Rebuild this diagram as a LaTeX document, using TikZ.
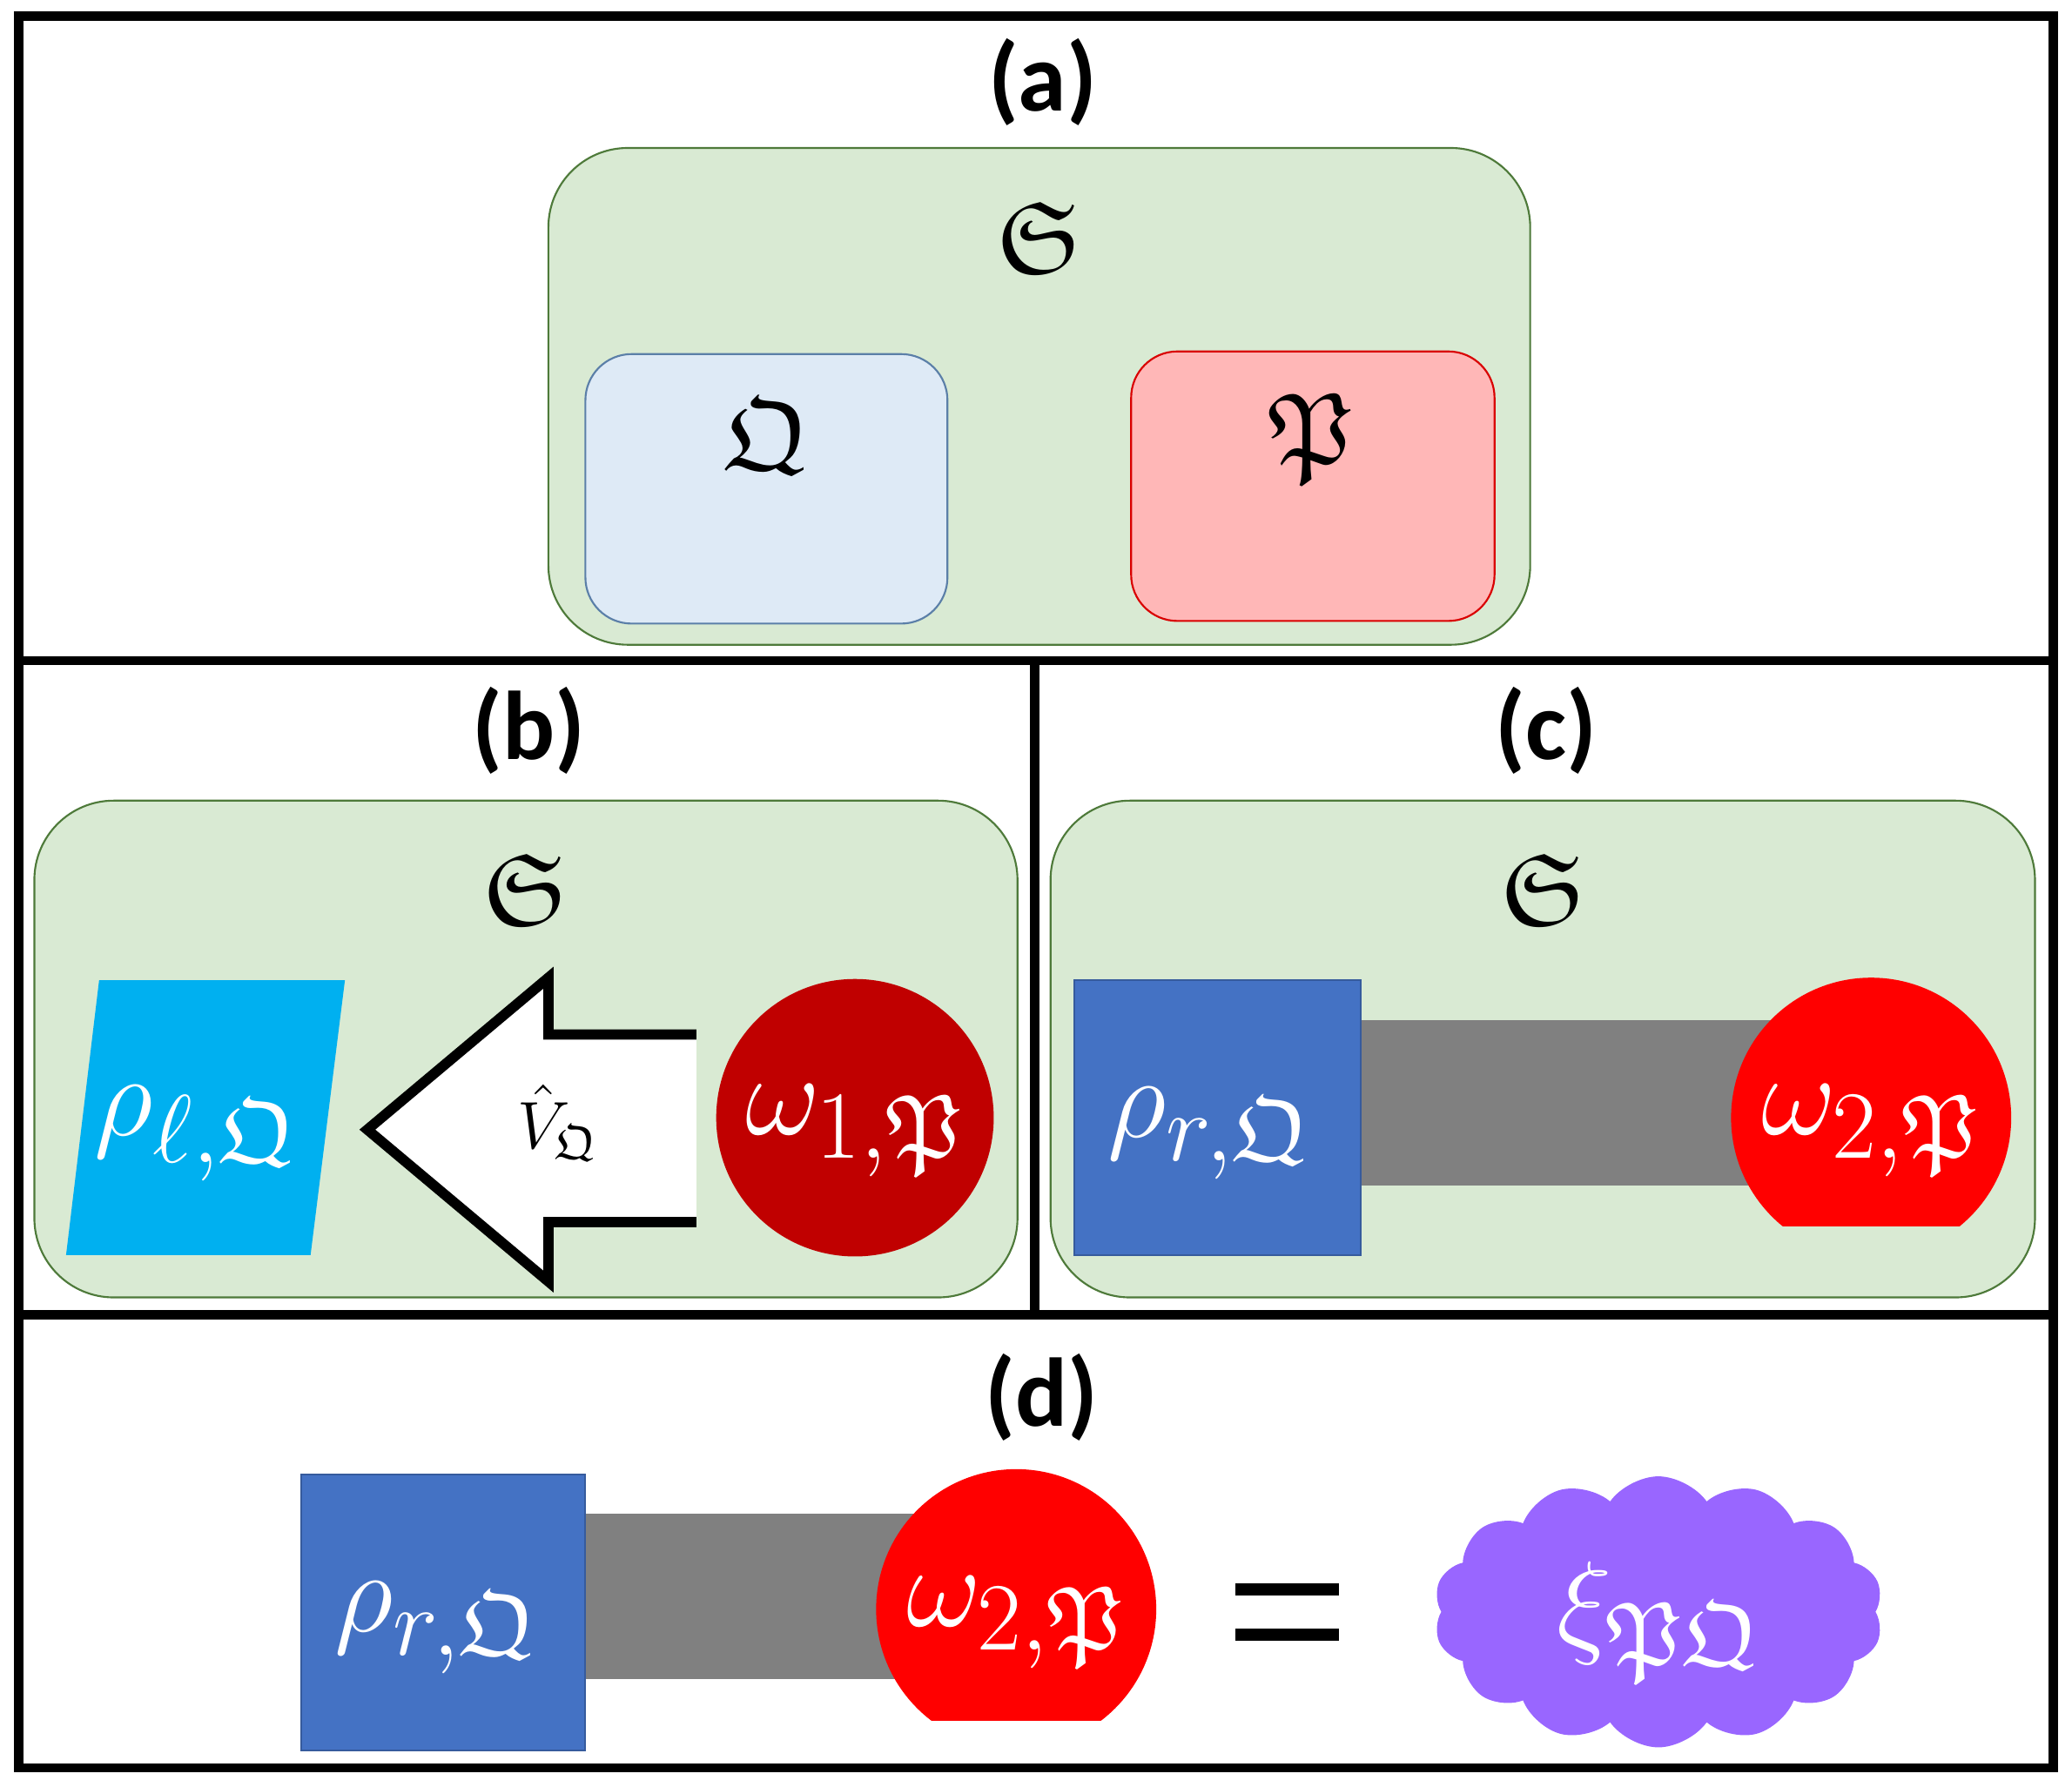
\documentclass[tikz,border=0pt]{standalone}
\usepackage{amssymb}
\usepackage{fontspec}
\setmainfont{Carlito}
\usetikzlibrary{shapes.symbols}
\definecolor{gfill}{HTML}{D9EAD3}
\definecolor{gdraw}{HTML}{4E7A3A}
\definecolor{bfill}{HTML}{DEEAF6}
\definecolor{bdraw}{HTML}{5B7FA8}
\definecolor{rfill}{HTML}{FFB7B7}
\definecolor{cyanf}{HTML}{00B0F0}
\definecolor{darkr}{HTML}{C00000}
\definecolor{blues}{HTML}{4472C4}
\definecolor{purp}{HTML}{9966FF}
\tikzset{
 lab/.style={font=\fontsize{21}{21}\selectfont\bfseries},
 frak/.style={font=\fontsize{22}{22}\selectfont},
 wt/.style={text=white,font=\fontsize{28}{28}\selectfont},
 gbox/.style={fill=gfill,draw=gdraw,rounded corners=0.6cm},
 frame/.style={line width=2pt},
}
\begin{document}
\begin{tikzpicture}[x=0.01cm,y=-0.01cm]
\useasboundingbox (0,0) rectangle (1568,1352);
% frames
\draw[frame] (14,12) rectangle (1554,1338);
\draw[frame] (14,500) -- (1554,500);
\draw[frame] (14,995) -- (1554,995);
\draw[frame] (783,500) -- (783,995);
% (a)
\node[lab] (la) at (789,62) {(a)};
\draw[gbox] (415,112) rectangle (1158,488);
\node[frak] (sa) at (787,180) {$\mathfrak{S}$};
\draw[fill=bfill,draw=bdraw,rounded corners=0.35cm] (443,268) rectangle (717,472);
\node[frak] (qa) at (580,330) {$\mathfrak{Q}$};
\draw[fill=rfill,draw=red!85!black,rounded corners=0.35cm] (856,266) rectangle (1131,470);
\node[frak] (pa) at (992,332) {$\mathfrak{P}$};
% (b)
\node[lab] (lb) at (400,553) {(b)};
\draw[gbox] (26,606) rectangle (770,982);
\node[frak] (sb) at (398,673) {$\mathfrak{S}$};
\fill[cyanf] (75,742) -- (261,742) -- (235,950) -- (50,950) -- cycle;
\node[wt] (rl) at (148,858) {$\rho_{\ell,\mathfrak{Q}}$};
\fill[white] (527,783) -- (415,783) -- (415,740) -- (278,855) -- (415,970) -- (415,925) -- (527,925) -- cycle;
\draw[line width=2.2pt] (527,783) -- (415,783) -- (415,740) -- (278,855) -- (415,970) -- (415,925) -- (527,925);
\node[font=\fontsize{15}{15}\selectfont] (vq) at (422,850) {$\hat V_{\mathfrak{Q}}$};
\fill[darkr] (647,846) circle (105);
\node[wt] (w1) at (647,856) {$\omega_{1,\mathfrak{P}}$};
% (c)
\node[lab] (lc) at (1170,553) {(c)};
\draw[gbox] (795,606) rectangle (1540,982);
\node[frak] (sc) at (1168,673) {$\mathfrak{S}$};
\fill[black!50] (1030,772) rectangle (1360,897);
\draw[fill=blues,draw=blues!80!black] (813,742) rectangle (1030,950);
\node[wt] (rc) at (915,858) {$\rho_{r,\mathfrak{Q}}$};
\begin{scope}
\clip (1300,700) rectangle (1540,928);
\fill[red] (1416,846) circle (106);
\end{scope}
\node[wt] (w2) at (1416,856) {$\omega_{2,\mathfrak{P}}$};
% (d)
\node[lab] (ld) at (788,1058) {(d)};
\fill[black!50] (443,1146) rectangle (700,1271);
\draw[fill=blues,draw=blues!80!black] (228,1116) rectangle (443,1325);
\node[wt] (rd) at (330,1232) {$\rho_{r,\mathfrak{Q}}$};
\begin{scope}
\clip (650,1100) rectangle (900,1302);
\fill[red] (769,1218) circle (106);
\end{scope}
\node[wt] (w3) at (769,1228) {$\omega_{2,\mathfrak{P}}$};
\draw[line width=2.6pt] (935,1203) -- (1013,1203);
\draw[line width=2.6pt] (935,1237) -- (1013,1237);
\node[cloud,cloud puffs=14,cloud puff arc=110,aspect=1.7,fill=purp,minimum width=3.4cm,minimum height=2.05cm,inner sep=0pt] (cl) at (1255,1220) {};
\node[wt] (xi) at (1255,1228) {$\xi_{\mathfrak{P}\mathfrak{Q}}$};
\end{tikzpicture}
\end{document}
